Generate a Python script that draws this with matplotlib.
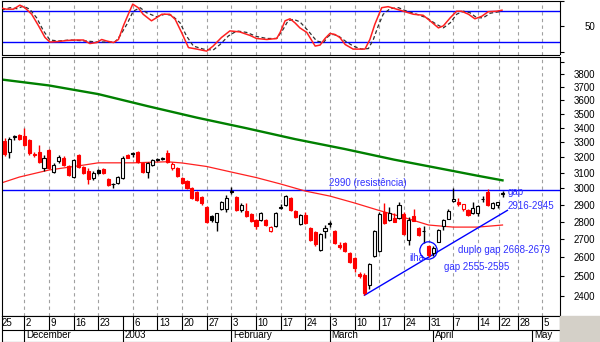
import numpy as np
import matplotlib
matplotlib.use("Agg")
import matplotlib.pyplot as plt
from matplotlib.patches import Rectangle
from matplotlib.ticker import FixedLocator, NullLocator

plt.rcParams['font.family'] = ['Liberation Sans', 'DejaVu Sans']

# daily candles, trading day 1 = 26 Nov 2002 ... day 102 = 22 Apr 2003
opens = [3309, 3232, 3340, 3348, 3345, 3316, 3222, 3237, 3129, 3248,
         3105, 3175, 3196, 3143, 3073, 3215, 3136, 3113, 3063, 3116,
         3122, 3056, 3026, 3031, 3063, 3215, 3225, 3237, 3162, 3105,
         3149, 3181, 3186, 3228, 3129, 3129, 3066, 3046, 3004, 2979,
         2948, 2887, 2832, 2798, 2874, 2871, 2983, 2949, 2868, 2865,
         2847, 2808, 2808, 2811, 2747, 2772, 2881, 2898, 2938, 2864,
         2785, 2838, 2763, 2740, 2642, 2746, 2786, 2746, 2667, 2676,
         2622, 2594, 2511, 2508, 2456, 2607, 2634, 2855, 2808, 2820,
         2823, 2847, 2694, 2835, 2761, 2744, 2664, 2622, 2684, 2774,
         2814, 2925, 2917, 2873, 2868, 2848, 2848, 2934, 2979, 2878,
         2900, 2966]
highs = [3330, 3337, 3351, 3360, 3400, 3323, 3235, 3282, 3215, 3255,
         3160, 3215, 3205, 3149, 3188, 3222, 3142, 3129, 3110, 3122,
         3128, 3063, 3035, 3076, 3205, 3222, 3237, 3244, 3168, 3168,
         3188, 3195, 3203, 3248, 3168, 3136, 3073, 3052, 3008, 2985,
         2955, 2893, 2838, 2853, 2924, 2958, 3008, 2955, 2910, 2910,
         2853, 2815, 2855, 2817, 2773, 2855, 2904, 2958, 2945, 2868,
         2845, 2858, 2768, 2745, 2735, 2778, 2802, 2752, 2683, 2682,
         2628, 2600, 2522, 2516, 2568, 2752, 2855, 2907, 2887, 2849,
         2916, 2854, 2825, 2873, 2768, 2775, 2667, 2662, 2757, 2814,
         2874, 2999, 2940, 2906, 2874, 2916, 2898, 2950, 2996, 2916,
         2916, 2985]
lows = [3208, 3192, 3316, 3316, 3275, 3215, 3200, 3163, 3110, 3125,
        3098, 3162, 3142, 3078, 3066, 3130, 3090, 3030, 3052, 3093,
        3090, 3014, 3000, 3024, 3058, 3193, 3203, 3163, 3095, 3065,
        3143, 3172, 3180, 3163, 3116, 3069, 3028, 2995, 2932, 2920,
        2900, 2792, 2800, 2743, 2868, 2859, 2965, 2860, 2856, 2826,
        2798, 2757, 2802, 2774, 2738, 2766, 2874, 2892, 2862, 2820,
        2780, 2785, 2688, 2663, 2636, 2705, 2769, 2675, 2645, 2628,
        2570, 2522, 2490, 2403, 2433, 2600, 2628, 2785, 2802, 2795,
        2817, 2722, 2665, 2802, 2716, 2680, 2601, 2607, 2681, 2751,
        2812, 2916, 2892, 2862, 2832, 2842, 2832, 2917, 2892, 2872,
        2880, 2945]
closes = [3222, 3321, 3344, 3323, 3282, 3225, 3213, 3170, 3195, 3131,
          3152, 3203, 3149, 3084, 3181, 3136, 3097, 3058, 3095, 3100,
          3096, 3021, 3024, 3069, 3198, 3195, 3222, 3170, 3102, 3162,
          3181, 3190, 3192, 3170, 3155, 3075, 3034, 3002, 2938, 2928,
          2908, 2798, 2810, 2848, 2918, 2943, 2977, 2868, 2895, 2833,
          2805, 2772, 2849, 2780, 2767, 2849, 2887, 2952, 2868, 2826,
          2838, 2791, 2694, 2670, 2729, 2765, 2790, 2680, 2656, 2634,
          2576, 2543, 2500, 2412, 2562, 2745, 2845, 2791, 2851, 2800,
          2898, 2728, 2808, 2805, 2722, 2748, 2612, 2650, 2751, 2808,
          2862, 2937, 2903, 2901, 2838, 2878, 2892, 2937, 2898, 2908,
          2914, 2971]
days = np.arange(1, len(closes) + 1)

# moving averages (short = red, long = green)
ma_short_day = [0, 4, 10, 17, 20, 27, 34, 37, 42, 47, 52, 57, 62, 67, 72, 77, 82, 87, 92, 97, 102]
ma_short = [3030, 3071, 3116, 3148, 3163, 3163, 3170, 3162, 3139, 3103, 3068,
            3027, 2983, 2952, 2910, 2865, 2824, 2780, 2768, 2768, 2780]
ma_long_day = [0, 10, 20, 30, 40, 50, 60, 70, 80, 90, 97, 102]
ma_long = [3762, 3714, 3648, 3558, 3474, 3399, 3322, 3255, 3184, 3122, 3079, 3050]

# stochastic %K and %D
k_day = [0.4, 1.4, 2.8, 4.1, 5.1, 6.5, 7.9, 9.2, 10.2, 11.9, 13.6, 15.6, 17.0, 18.3,
         19.7, 20.7, 21.7, 23.1, 24.1, 25.1, 26.1, 27.0, 28.1, 29.1, 30.8, 31.8,
         32.9, 34.5, 35.6, 36.9, 38.3, 40.0, 42.0, 43.3, 45.0, 46.7, 48.7, 50.8,
         52.1, 54.2, 56.2, 56.9, 57.9, 58.9, 59.9, 60.9, 62.3, 64.0, 65.0, 66.0,
         67.0, 68.0, 69.0, 70.1, 71.7, 74.1, 75.1, 76.1, 77.5, 78.8, 80.2, 81.9,
         83.9, 85.9, 87.3, 89.0, 90.0, 91.4, 92.7, 93.7, 95.1, 96.4, 97.8, 99.1,
         100.8, 101.9]
k_val = [86, 84, 84, 92, 87, 74, 51, 28, 19, 20, 22, 23, 23, 16,
         18, 24, 21, 18, 24, 51, 74, 94, 87, 74, 61, 67,
         74, 74, 64, 38, 8, 5, 1, 11, 28, 41, 39, 32,
         26, 24, 26, 38, 61, 65, 57, 47, 38, 11, 13, 26,
         36, 34, 28, 14, 5, 5, 24, 54, 87, 89, 85, 80,
         74, 72, 61, 47, 51, 67, 80, 80, 74, 65, 70, 79,
         80, 82]
d_day = [0.4, 2.1, 3.5, 4.8, 6.1, 7.5, 8.9, 10.2, 11.9, 14.3, 17.7, 19.7, 21.7,
         23.4, 24.4, 25.8, 27.1, 28.5, 29.8, 31.8, 33.5, 34.9, 36.6, 37.9, 39.3,
         41.3, 43.3, 44.7, 46.4, 48.1, 50.1, 52.1, 54.2, 56.2, 57.5, 58.5, 59.6,
         60.9, 62.6, 64.3, 65.7, 66.7, 67.7, 68.7, 70.1, 71.7, 73.4, 74.8, 75.8,
         76.8, 77.8, 79.2, 80.9, 82.6, 84.6, 86.6, 88.6, 90.0, 91.4, 92.7, 94.1,
         95.4, 96.8, 98.1, 99.5, 101.9]
d_val = [82, 87, 85, 90, 84, 67, 41, 23, 21, 23, 21, 19, 19,
         19, 31, 54, 80, 87, 77, 69, 74, 72, 57, 31, 11,
         5, 3, 14, 31, 41, 38, 30, 26, 26, 44, 61, 64,
         59, 41, 21, 18, 31, 34, 31, 21, 11, 5, 6, 24,
         51, 74, 85, 87, 80, 74, 67, 54, 47, 57, 74, 80,
         77, 67, 67, 76, 80]

# date axis: week starts and month starts (in trading days)
week_pos = [0, 5, 10, 15, 20, 27, 32, 37, 42, 47, 52, 57, 62, 67, 72, 77, 82,
            87, 92, 97, 101.3, 105.2, 110]
week_lbl = ['25', '2', '9', '16', '23', '6', '13', '20', '27', '3', '10', '17',
            '24', '3', '10', '17', '24', '31', '7', '14', '22', '28', '5']
month_pos = [5, 25, 47, 67, 88, 108]
month_lbl = ['December', '2003', 'February', 'March', 'April', 'May']

resistance = 2990
trend_day = [74, 103]
trend_px = [2403, 2866]

BLUE = '#0000ff'
TXT_BLUE = '#3030ff'
GRID = '#a0a0a0'

W, H = 600, 342
fig = plt.figure(figsize=(W / 100, H / 100), dpi=100)


def box(x0, y0, x1, y1):
    return [x0 / W, 1 - y1 / H, (x1 - x0) / W, (y1 - y0) / H]


ax_st = fig.add_axes(box(2, 0.5, 559.5, 54.5))
ax = fig.add_axes(box(2, 56.5, 559.5, 315.5))
ax_dt = fig.add_axes(box(2, 315.5, 559.5, 342))
fig.patches.append(Rectangle((559.5 / W, 0), (W - 559.5) / W, 26.5 / H,
                             transform=fig.transFigure, color='#d4d0c8', zorder=0))

xlim = (0.48, 113.56)
for a in (ax_st, ax, ax_dt):
    a.set_xlim(*xlim)
    a.set_xticks([])
    for s in a.spines.values():
        s.set_linewidth(0.8)

for a in (ax_st, ax):
    for p in week_pos[1:]:
        a.axvline(p, color=GRID, ls=(0, (3, 3)), lw=0.8, zorder=0)

# --- stochastic panel ---
ax_st.plot(d_day, d_val, color='#303030', ls=(0, (3, 2)), lw=0.9, zorder=2)
ax_st.plot(k_day, k_val, color='#ff2020', lw=1.1, zorder=3)
ax_st.axhline(80, color=BLUE, lw=1, zorder=1)
ax_st.axhline(20, color=BLUE, lw=1, zorder=1)
ax_st.set_ylim(-5.7, 101.2)
ax_st.yaxis.tick_right()
ax_st.yaxis.set_major_locator(FixedLocator([0, 50, 100]))
ax_st.set_yticklabels(['', '50', ''])

# --- price panel ---
o = np.array(opens)
c = np.array(closes)
prev = np.r_[np.inf, c[:-1]]
edge = np.where(c >= prev, 'black', 'red')
face = np.where(c < o, edge, 'white')

ax.plot(ma_long_day, ma_long, color='#008000', lw=1.7, zorder=2)
ax.plot(ma_short_day, ma_short, color='#ff2020', lw=0.9, zorder=2)
ax.axhline(resistance, color=BLUE, lw=1, zorder=1)
ax.plot(trend_day, trend_px, color=BLUE, lw=1, zorder=2)

ax.vlines(days, lows, highs, colors=edge, lw=1, zorder=3)
ax.bar(days, np.abs(c - o), bottom=np.minimum(o, c), width=0.62,
       color=face, edgecolor=edge, linewidth=0.8, zorder=4)

ax.set_yscale('log')
ax.set_ylim(2304, 3944)
ax.yaxis.tick_right()
ax.yaxis.set_major_locator(FixedLocator(list(range(2400, 4000, 100))))
ax.yaxis.set_minor_locator(NullLocator())
ax.set_yticklabels([str(v) if v < 3900 else '' for v in range(2400, 4000, 100)])

for a in (ax_st, ax):
    a.tick_params(axis='y', direction='out', length=3, width=0.8,
                  labelsize=7, pad=22.5)
    for lbl in a.get_yticklabels():
        lbl.set_horizontalalignment('right')

# annotations
ax.text(66.8, 3017, '2990 (resistência)', color=TXT_BLUE, fontsize=7, va='baseline')
ax.text(103.1, 2956, 'gap', color=TXT_BLUE, fontsize=7, va='baseline')
ax.text(103.1, 2873, '2916-2945', color=TXT_BLUE, fontsize=7, va='baseline')
ax.text(92.9, 2623, 'duplo gap 2668-2679', color=TXT_BLUE, fontsize=7, va='baseline')
ax.text(90.1, 2534, 'gap 2555-2595', color=TXT_BLUE, fontsize=7, va='baseline')
ax.text(83.2, 2581, 'ilha', color=TXT_BLUE, fontsize=7, va='baseline')
ax.plot([86.95], [2639], marker='o', markersize=12.5, mfc='none', mec=BLUE,
        mew=0.9, zorder=5)

# --- date rows ---
ax_dt.set_ylim(0, 1)
ax_dt.set_yticks([])
ax_dt.axhline(0.453, color='black', lw=0.8)
ax_dt.vlines(week_pos + [25], 0.453, 1, color='black', lw=0.8)
ax_dt.vlines(month_pos, 0, 0.453, color='black', lw=0.8)
for p, t in zip(week_pos, week_lbl):
    ax_dt.text(p + 0.34, 0.717, t, fontsize=7, va='center', ha='left')
for p, t in zip(month_pos, month_lbl):
    ax_dt.text(p + 0.34, 0.253, t, fontsize=7, va='center', ha='left')

fig.savefig('out.png', dpi=100)
